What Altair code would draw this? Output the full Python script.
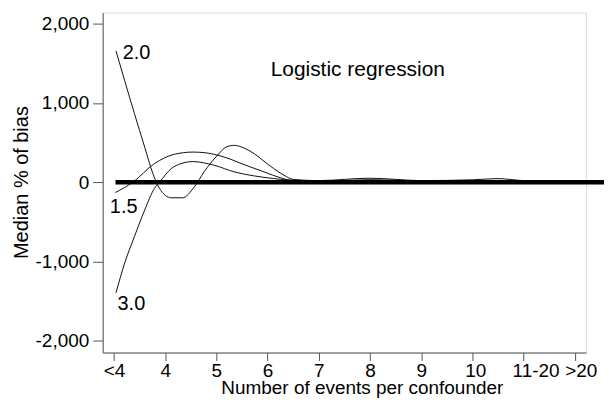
import json
import altair as alt
import pandas as pd

# ---- data ----
categories = ["<4", "4", "5", "6", "7", "8", "9", "10", "11-20", ">20"]
cat_pos = list(range(len(categories)))

# curve "2.0" (x = category position, y = median % of bias)
s20_x = [0.04, 0.21, 0.40, 0.60, 0.76, 0.89, 1.12, 1.34, 1.57, 1.76, 2.02, 2.19, 2.35,
         2.54, 2.74, 2.93, 3.12, 3.32, 3.51, 4, 5, 6, 7, 8, 9]
s20_y = [1657, 1280, 866, 443, 109, -79, -197, -197, -59, 130, 339, 443, 465,
         431, 360, 264, 172, 88, 34, 20, 50, 20, 20, 15, 10]

# curve "1.5"
s15_x = [0.03, 0.37, 0.79, 1.18, 1.54, 1.76, 2.15, 2.54, 2.93, 3.26, 3.45,
         4, 5, 6, 7, 7.5, 8, 9]
s15_y = [-130, 0, 234, 352, 380, 373, 318, 222, 130, 54, 25,
         15, 30, 20, 30, 45, 20, 10]

# curve "3.0"
s30_x = [0.04, 0.21, 0.40, 0.60, 0.79, 0.89, 1.12, 1.31, 1.54, 1.96, 2.35, 2.74,
         3.12, 3.45, 4, 5, 6, 7, 8, 9]
s30_y = [-1397, -1020, -687, -352, -79, 0, 172, 234, 260, 213, 130, 79,
         46, 25, 15, 25, 15, 15, 10, 5]

# zero reference line (thick)
zero_x = [0.03]
zero_x2 = [9.62]
zero_y = [0]

# annotations
ann_text = ["2.0", "1.5", "3.0", "Logistic regression"]
ann_x = [0.17, -0.08, 0.07, 3.06]
ann_y = [1557, -385, -1616, 1343]
ann_fs = [20, 20, 20, 21]

y_ticks = [-2000, -1000, 0, 1000, 2000]

# ---- build tables ----
rows = []
for name, xs, ys in [("2.0", s20_x, s20_y), ("1.5", s15_x, s15_y), ("3.0", s30_x, s30_y)]:
    for i, (a, b) in enumerate(zip(xs, ys)):
        rows.append({"series": name, "x": a, "y": b, "order": i})
curves = pd.DataFrame(rows)
zero = pd.DataFrame({"x": zero_x, "x2": zero_x2, "y": zero_y})
ann = pd.DataFrame({"label": ann_text, "x": ann_x, "y": ann_y, "fs": ann_fs})

FONT = "Liberation Sans"
AX = "#555555"

xscale = alt.Scale(domain=[-0.22, 9.22], nice=False, zero=False)
yscale = alt.Scale(domain=[-2150, 2140], nice=False, zero=False)

x_axis = alt.Axis(
    values=cat_pos,
    labelExpr=json.dumps(categories) + "[datum.value]",
    labelOffset={"condition": [
        {"test": "datum.value == 8", "value": 12},
        {"test": "datum.value == 9", "value": 6},
        {"test": "datum.value == 7", "value": 3},
    ], "value": 0},
    title="Number of events per confounder",
    tickSize=8, labelPadding=1, labelFontSize=19, labelFont=FONT,
    labelColor="black", labelFlush=False, labelOverlap=False,
    domainColor=AX, tickColor=AX, grid=False,
    titleFont=FONT, titleFontSize=19, titleFontWeight="normal", titleColor="black",
    titleX=260, titleY=41, titleBaseline="alphabetic", titleAlign="center",
)
y_axis = alt.Axis(
    values=y_ticks,
    labelExpr="datum.value == 0 ? '0' : (datum.value < 0 ? '-' : '') + format(abs(datum.value), ',')",
    title="Median % of bias",
    tickSize=10, labelPadding=4, labelFontSize=19, labelFont=FONT,
    labelColor="black", labelFlush=False,
    domainColor=AX, tickColor=AX, grid=False,
    titleFont=FONT, titleFontSize=20, titleFontWeight="normal", titleColor="black",
    titleAngle=270, titleX=-75, titleY=170, titleBaseline="alphabetic", titleAlign="center",
)

lines = alt.Chart(curves).mark_line(
    interpolate="monotone", strokeWidth=1, color="#111111"
).encode(
    x=alt.X("x:Q", scale=xscale, axis=x_axis),
    y=alt.Y("y:Q", scale=yscale, axis=y_axis),
    detail="series:N",
    order="order:Q",
)

zero_line = alt.Chart(zero).mark_rule(strokeWidth=4.5, color="black", strokeCap="butt").encode(
    x=alt.X("x:Q", scale=xscale),
    x2="x2:Q",
    y=alt.Y("y:Q", scale=yscale),
)

labels = alt.Chart(ann).mark_text(
    align="left", baseline="alphabetic", font=FONT, color="black"
).encode(
    x=alt.X("x:Q", scale=xscale),
    y=alt.Y("y:Q", scale=yscale),
    text="label:N",
    size=alt.Size("fs:Q", scale=None, legend=None),
)

chart = alt.layer(lines, zero_line, labels).properties(
    width=485, height=341,
    padding={"left": 95, "top": 4, "right": 18, "bottom": 47},
    autosize=alt.AutoSizeParams(type="none"),
).configure_view(stroke=None).configure(background="white")

chart.save("out.html", embed_options={"renderer": "svg", "actions": False})
